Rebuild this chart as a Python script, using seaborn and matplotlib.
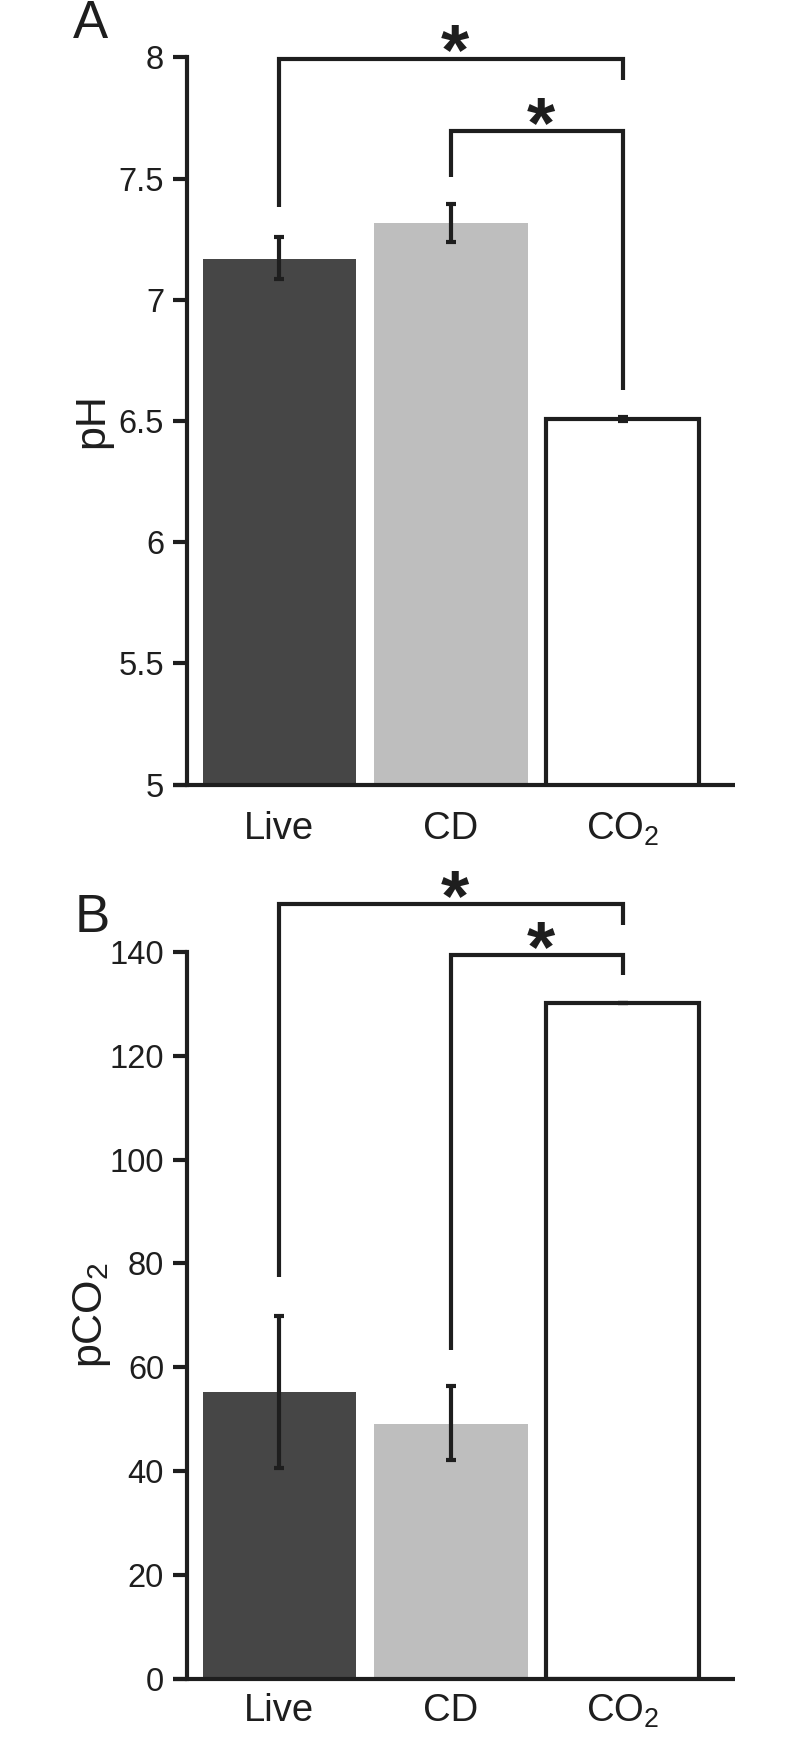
import numpy as np
import pandas as pd
import matplotlib
matplotlib.use("Agg")
import matplotlib.pyplot as plt
import seaborn as sns

# ---------------- data ----------------
categories = ["Live", "CD", "CO2"]
tick_labels = ["Live", "CD", r"CO$_2$"]
bar_colors = ["#464646", "#bebebe", "#ffffff"]

ph_mean = [7.170, 7.318, 6.508]
ph_low = [7.086, 7.240, 6.500]
ph_high = [7.258, 7.395, 6.518]

pco2_mean = [55.3, 49.1, 130.1]
pco2_low = [40.6, 42.1, 130.1]
pco2_high = [69.9, 56.3, 130.1]

# significance brackets: (left idx, right idx, top, left-leg bottom, right-leg bottom)
ph_brackets = [(0, 2, 7.995, 7.383, 7.906), (1, 2, 7.697, 7.508, 6.627)]
pco2_brackets = [(0, 2, 149.3, 77.4, 145.2), (1, 2, 139.5, 63.4, 135.6)]

ph_ticks = [5, 5.5, 6, 6.5, 7, 7.5, 8]
ph_ticklabels = ["5", "5.5", "6", "6.5", "7", "7.5", "8"]
pco2_ticks = [0, 20, 40, 60, 80, 100, 120, 140]

# ---------------- style ----------------
sns.set_style("white")
plt.rcParams["font.family"] = ["Liberation Sans", "DejaVu Sans"]
plt.rcParams["mathtext.fontset"] = "custom"
plt.rcParams["mathtext.rm"] = "Liberation Sans"
plt.rcParams["mathtext.it"] = "Liberation Sans:italic"
plt.rcParams["mathtext.bf"] = "Liberation Sans:bold"

INK = "#1e1e1e"
LW = 3.0

W, H = 798, 1741
fig = plt.figure(figsize=(W / 100, H / 100), dpi=100)

XLIM = (-0.538, 2.654)
ax_left_px, ax_right_px = 187, 735


def make_panel(top_px, bottom_px, means, lows, highs, brackets, ylim, yticks,
               yticklabels, ylabel, letter, letter_xy, ylabel_y, xpad):
    ax = fig.add_axes([ax_left_px / W, 1 - bottom_px / H,
                       (ax_right_px - ax_left_px) / W, (bottom_px - top_px) / H])
    df = pd.DataFrame({"group": categories, "value": means})
    sns.barplot(data=df, x="group", y="value", hue="group", palette=bar_colors,
                width=0.893, legend=False, errorbar=None, saturation=1, ax=ax)
    for i, p in enumerate(ax.patches):
        if i == 2:
            p.set_edgecolor(INK)
            p.set_linewidth(LW)
            p.set_joinstyle("miter")
        else:
            p.set_linewidth(0)
    m = np.array(means)
    yerr = [m - np.array(lows), np.array(highs) - m]
    ax.errorbar(np.arange(3), m, yerr=yerr, fmt="none", ecolor=INK,
                elinewidth=LW, capsize=3.3, capthick=LW, zorder=5)

    ax.set_xlim(*XLIM)
    ax.set_ylim(*ylim)
    ax.set_yticks(yticks)
    ax.set_yticklabels(yticklabels)
    ax.set_xticks(range(3))
    ax.set_xticklabels(tick_labels)
    ax.set_xlabel("")
    ax.set_ylabel(ylabel, fontsize=31, color=INK)
    ax.yaxis.set_label_coords(-0.1356, ylabel_y)

    for s in ["top", "right"]:
        ax.spines[s].set_visible(False)
    for s in ["left", "bottom"]:
        ax.spines[s].set_linewidth(LW)
        ax.spines[s].set_color(INK)
    ext = 14 * (XLIM[1] - XLIM[0]) / (ax_right_px - ax_left_px)
    ax.spines["bottom"].set_bounds(XLIM[0] - ext, XLIM[1])
    ax.spines["bottom"].set_capstyle("butt")

    ax.tick_params(axis="y", direction="out", length=10, width=LW, color=INK,
                   labelsize=23.5, labelcolor=INK, pad=6.5, left=True)
    ax.tick_params(axis="x", length=0, labelsize=27.5, labelcolor=INK, pad=xpad)

    # significance brackets
    for (a, b, top, lb, rb) in brackets:
        ax.plot([a, a, b, b], [lb, top, top, rb], color=INK, lw=LW,
                clip_on=False, solid_joinstyle="miter", solid_capstyle="butt",
                zorder=6)
        ax.annotate("*", xy=((a + b) / 2, top), xytext=(3, -11.5),
                    textcoords="offset points", ha="center", va="baseline",
                    fontsize=52, fontweight="bold", color=INK,
                    annotation_clip=False)

    fig.text(letter_xy[0] / W, 1 - letter_xy[1] / H, letter, fontsize=38,
             color=INK, ha="center", va="center")
    return ax


make_panel(57.3, 784.7, ph_mean, ph_low, ph_high, ph_brackets, (5, 8),
           ph_ticks, ph_ticklabels, "pH", "A", (90.5, 24), 0.5, 19)
make_panel(952.0, 1678.7, pco2_mean, pco2_low, pco2_high, pco2_brackets,
           (0, 140), pco2_ticks, [str(t) for t in pco2_ticks],
           r"pCO$_2$", "B", (92.6, 917.5), 0.5, 10)

fig.savefig("out.png", dpi=100)
